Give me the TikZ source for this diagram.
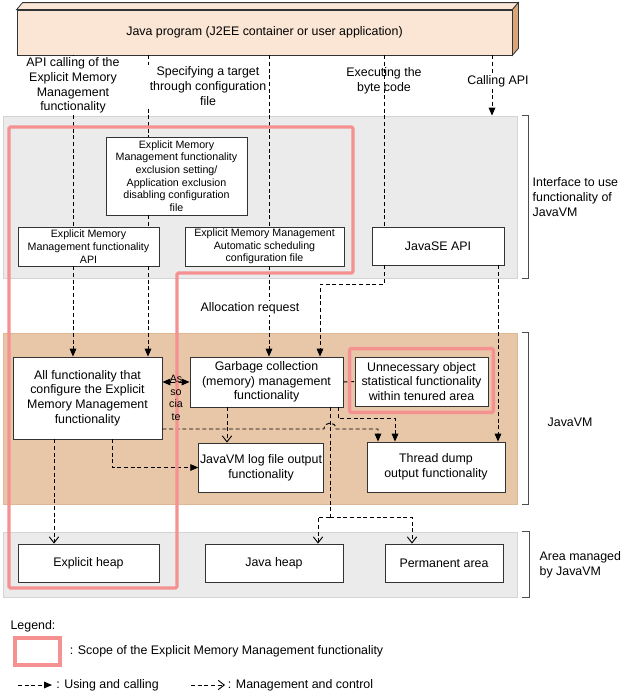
\documentclass[tikz,border=0pt]{standalone}
\usepackage{fontspec}
\setmainfont{Liberation Sans}
\usetikzlibrary{positioning, arrows.meta, calc}
\definecolor{peach}{RGB}{251,229,212}
\definecolor{sidetan}{RGB}{217,166,122}
\definecolor{jvmfill}{RGB}{232,199,168}
\definecolor{jvmline}{RGB}{222,184,148}
\definecolor{ifacefill}{RGB}{235,235,235}
\definecolor{ifaceline}{RGB}{212,212,212}
\definecolor{scope}{RGB}{245,145,145}
\newcommand{\lbfont}{\fontsize{9.3}{11}\selectfont}
\newcommand{\smfont}{\fontsize{8}{9.5}\selectfont}
\tikzset{
  fnbox/.style={draw=black!80, fill=white, line width=0.6pt, align=center, inner sep=1pt, font=\lbfont},
  smallbox/.style={fnbox, font=\smfont},
  region/.style={draw, line width=0.6pt, inner sep=0pt},
  lbl/.style={align=center, inner sep=1pt, font=\lbfont},
  dashline/.style={dash pattern=on 3pt off 2pt, line width=0.7pt},
  call/.style={dashline, -{Triangle[length=6pt,width=5pt]}},
  ctrl/.style={dashline, -{Straight Barb[length=4.5pt,width=7pt]}},
  assoc/.style={line width=0.7pt, {Triangle[length=6pt,width=5pt]}-{Triangle[length=6pt,width=5pt]}},
  bracket/.style={draw=black!70, line width=0.6pt},
  scopeline/.style={draw=scope, line width=2.4pt, rounded corners=1pt},
}
\begin{document}
\begin{tikzpicture}[x=0.75pt, y=-0.75pt]
		\useasboundingbox (0,0) rectangle (627,696);
		% Layers
		\node[region, draw=ifaceline, fill=ifacefill, minimum width=385.5pt, minimum height=121.5pt] (iface) at (260,197) {};
		\node[region, draw=jvmline, fill=jvmfill, minimum width=385.5pt, minimum height=128.25pt] (jvm) at (260,418.5) {};
		\node[region, draw=ifaceline, fill=ifacefill, minimum width=385.5pt, minimum height=48.75pt] (area) at (260,564.5) {};
		\draw[bracket] ([xshift=3.75pt]iface.north east) -| ([xshift=8.25pt]iface.south east) -- ([xshift=3.75pt]iface.south east);
		\draw[bracket] ([xshift=3.75pt]jvm.north east) -| ([xshift=8.25pt]jvm.south east) -- ([xshift=3.75pt]jvm.south east);
		\draw[bracket] ([xshift=3.75pt]area.north east) -| ([xshift=9pt]area.south east) -- ([xshift=3.75pt]area.south east);
		\node[lbl, align=left, anchor=west] (ifacelbl) at ([xshift=10.25pt]iface.east) {Interface to use\\functionality of\\JavaVM};
		\node[lbl, align=left, anchor=west] (jvmlbl) at ([xshift=21.5pt,yshift=-2.5pt]jvm.east) {JavaVM};
		\node[lbl, align=left, anchor=west] (arealbl) at ([xshift=15.5pt]area.east) {Area managed\\by JavaVM};
		% Java program
		\node[fnbox, fill=peach, minimum width=371.25pt, minimum height=33.75pt] (prog) at (264.5,32.5) {Java program (J2EE container or user application)};
		\draw[draw=black!80, fill=peach, line width=0.6pt] (prog.north west) -- ++(6,-7) -- ([shift={(6,-7)}]prog.north east) -- (prog.north east) -- cycle;
		\draw[draw=black!80, fill=sidetan, line width=0.6pt] (prog.north east) -- ++(6,-7) -- ([shift={(6,-7)}]prog.south east) -- (prog.south east) -- cycle;
		% Interface
		\node[smallbox, minimum width=105.75pt, minimum height=58.5pt] (excl) at (176.5,176) {Explicit Memory\\Management functionality\\exclusion setting/\\Application exclusion\\disabling configuration\\file};
		\node[smallbox, minimum width=105.75pt, minimum height=29.25pt] (emapi) at (88.5,246.5) {Explicit Memory\\Management functionality\\API};
		\node[smallbox, minimum width=119.25pt, minimum height=29.25pt] (sched) at (264.5,246.5) {Explicit Memory Management\\Automatic scheduling\\configuration file};
		\node[fnbox, minimum width=99pt, minimum height=28.5pt] (javase) at (438,246) {JavaSE API};
		% JavaVM
		\node[fnbox, minimum width=111.75pt, minimum height=61.5pt] (allfn) at (87.5,398) {All functionality that\\configure the Explicit\\Memory Management\\functionality};
		\node[fnbox, minimum width=114.75pt, minimum height=37.5pt] (gc) at (266.5,382) {Garbage collection\\(memory) management\\functionality};
		\node[fnbox, minimum width=99.75pt, minimum height=36.75pt] (unnec) at (421.5,381.5) {Unnecessary object\\statistical functionality\\within tenured area};
		\node[fnbox, minimum width=93pt, minimum height=36.75pt] (jlog) at (261,467.5) {JavaVM log file output\\functionality};
		\node[fnbox, minimum width=103.5pt, minimum height=37.5pt] (tdump) at (436,467) {Thread dump\\output functionality};
		% Managed area
		\node[fnbox, minimum width=105.75pt, minimum height=28.5pt] (eheap) at (88.5,563) {Explicit heap};
		\node[fnbox, minimum width=103.5pt, minimum height=28.5pt] (jheap) at (274,563) {Java heap};
		\node[fnbox, minimum width=88.5pt, minimum height=28.5pt] (perm) at (444,563) {Permanent area};
		% Connector columns
		\coordinate (xa) at (73,0);
		\coordinate (xb) at (148,0);
		\coordinate (xc) at (269,0);
		\coordinate (xd) at (384,0);
		\coordinate (xe) at (492,0);
		\coordinate (xf) at (320,0);
		\coordinate (xg) at (498,0);
		\coordinate (xh) at (227,0);
		\coordinate (xi) at (112,0);
		\coordinate (xj) at (378,0);
		\coordinate (xl) at (318,0);
		\coordinate (xm) at (412,0);
		\coordinate (xn) at (338,0);
		\coordinate (xo) at (395,0);
		\coordinate (xp) at (54,0);
		\coordinate (hop) at (330,429);
		\coordinate (split) at (330,517);
		% Paths
		\path
		(prog.south -| xa) edge[dashline] (emapi.north -| xa)
		(emapi.south -| xa) edge[call] (allfn.north -| xa)
		(prog.south -| xb) edge[dashline] (excl.north -| xb)
		(excl.south -| xb) edge[dashline] (emapi.north -| xb)
		(emapi.south -| xb) edge[call] (allfn.north -| xb)
		(prog.south -| xc) edge[dashline] (sched.north -| xc)
		(sched.south -| xc) edge[call] (gc.north -| xc)
		(prog.south -| xd) edge[dashline] (javase.north -| xd)
		(prog.south -| xe) edge[call] (iface.north -| xe)
		(javase.south -| xg) edge[call] (tdump.north -| xg)
		(gc.south -| xh) edge[ctrl] (jlog.north -| xh)
		(allfn.south -| xp) edge[ctrl] (eheap.north -| xp)
		(gc.east) edge[dashline] (unnec.west)
		(gc.west -| allfn.east) edge[assoc] (gc.west);
		\draw[call] (javase.south -| xd) -- ++(0,19) -| (gc.north -| xf);
		\draw[call] (allfn.south -| xi) |- (jlog.west);
		\draw[call] (gc.south -| xn) -- ++(0,11) -| (tdump.north -| xo);
		\draw[call] (hop -| allfn.east) -- ([xshift=-4.5pt]hop) .. controls +(0,-8) and +(0,-8) .. ([xshift=4.5pt]hop) -- (hop -| xj) -- (tdump.north -| xj);
		\draw[dashline] (gc.south -| split) -- (split);
		\draw[ctrl] (split) -| (jheap.north -| xl);
		\draw[ctrl] (split) -| (perm.north -| xm);
		% Labels
		\node[lbl, fill=white] (apilbl) at (73,85.5) {API calling of the\\Explicit Memory\\Management\\functionality};
		\node[lbl, fill=white] (cfglbl) at (208,86) {Specifying a target\\through configuration\\file};
		\node[lbl] (execlbl) at (384,81) {Executing the\\byte code};
		\node[lbl, fill=white] (calllbl) at (498,81) {Calling API};
		\node[lbl, fill=white] (alloclbl) at (250,308) {Allocation request};
		% Scope of the Explicit Memory Management functionality
		\draw[scopeline] (9,127) -- (353,127) -- (353,273) -- (177,273) -- (177,588) -- (9,588) -- cycle;
		\draw[scopeline, line width=2.6pt] ([shift={(-5,-8)}]unnec.north west) rectangle ([shift={(5,6)}]unnec.south east);
		\node[lbl, font=\smfont] (assoclbl) at (176,398) {As\\so\\cia\\te};
		% Legend
		\node[lbl, anchor=west] (legend) at (9,626) {Legend:};
		\node[draw=scope, line width=2.4pt, minimum width=33.75pt, minimum height=20.25pt] (legbox) at (37.5,651.5) {};
		\node[lbl, right=5pt of legbox] (legscope) {: Scope of the Explicit Memory Management functionality};
		\coordinate (lca) at (18,685);
		\coordinate (lcb) at (52,685);
		\draw[call] (lca) -- (lcb);
		\node[lbl, right=2pt of lcb] (legcall) {: Using and calling};
		\coordinate (lma) at (191,685);
		\coordinate (lmb) at (225,685);
		\draw[ctrl] (lma) -- (lmb);
		\node[lbl, right=1pt of lmb] (legctrl) {: Management and control};
	\end{tikzpicture}
\end{document}
